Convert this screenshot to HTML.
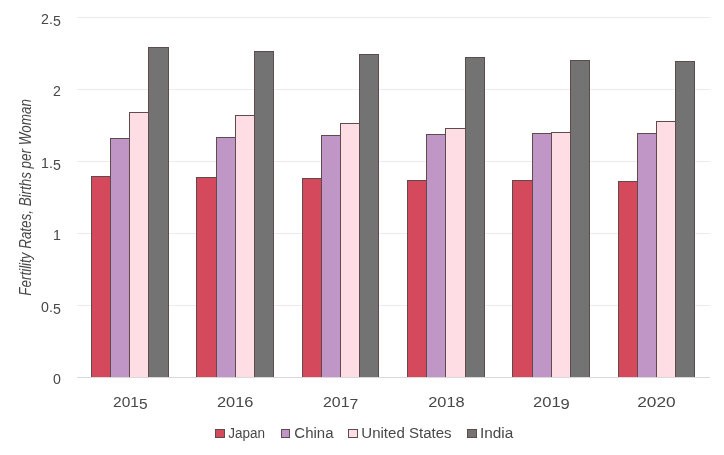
<!DOCTYPE html>
<html lang="en"><head><meta charset="utf-8"><title>Fertility Rates, Births per Woman</title>
<style>
html,body{margin:0;padding:0;background:#fff;}
body{width:724px;height:455px;overflow:hidden;}
svg{display:block;}
text{font-family:"Liberation Sans","DejaVu Sans",sans-serif;fill:#484848;}
.t{font-size:14.2px;}
.ti{font-size:15.8px;font-style:italic;}
.l{font-size:15.5px;}
</style></head><body>
<svg width="724" height="455" viewBox="0 0 724 455">
<rect width="724" height="455" fill="#ffffff"/>
<g shape-rendering="crispEdges">
<rect x="77" y="17" width="633" height="1" fill="#f4e7ee"/>
<rect x="77" y="89" width="633" height="1" fill="#f4e7ee"/>
<rect x="77" y="161" width="633" height="1" fill="#f4e7ee"/>
<rect x="77" y="233" width="633" height="1" fill="#f4e7ee"/>
<rect x="77" y="305" width="633" height="1" fill="#f4e7ee"/>
<rect x="91" y="176" width="20" height="201" fill="#5f4b4b"/>
<rect x="92" y="177" width="18" height="200" fill="#d4495b"/>
<rect x="110" y="138" width="20" height="239" fill="#5f4b4b"/>
<rect x="111" y="139" width="18" height="238" fill="#c096c6"/>
<rect x="129" y="112" width="20" height="265" fill="#5f4b4b"/>
<rect x="130" y="113" width="18" height="264" fill="#ffdde4"/>
<rect x="148" y="47" width="21" height="330" fill="#5f4b4b"/>
<rect x="149" y="48" width="19" height="329" fill="#737373"/>
<rect x="196" y="177" width="21" height="200" fill="#5f4b4b"/>
<rect x="197" y="178" width="19" height="199" fill="#d4495b"/>
<rect x="216" y="137" width="20" height="240" fill="#5f4b4b"/>
<rect x="217" y="138" width="18" height="239" fill="#c096c6"/>
<rect x="235" y="115" width="20" height="262" fill="#5f4b4b"/>
<rect x="236" y="116" width="18" height="261" fill="#ffdde4"/>
<rect x="254" y="51" width="20" height="326" fill="#5f4b4b"/>
<rect x="255" y="52" width="18" height="325" fill="#737373"/>
<rect x="302" y="178" width="20" height="199" fill="#5f4b4b"/>
<rect x="303" y="179" width="18" height="198" fill="#d4495b"/>
<rect x="321" y="135" width="20" height="242" fill="#5f4b4b"/>
<rect x="322" y="136" width="18" height="241" fill="#c096c6"/>
<rect x="340" y="123" width="20" height="254" fill="#5f4b4b"/>
<rect x="341" y="124" width="18" height="253" fill="#ffdde4"/>
<rect x="359" y="54" width="20" height="323" fill="#5f4b4b"/>
<rect x="360" y="55" width="18" height="322" fill="#737373"/>
<rect x="407" y="180" width="20" height="197" fill="#5f4b4b"/>
<rect x="408" y="181" width="18" height="196" fill="#d4495b"/>
<rect x="426" y="134" width="20" height="243" fill="#5f4b4b"/>
<rect x="427" y="135" width="18" height="242" fill="#c096c6"/>
<rect x="445" y="128" width="21" height="249" fill="#5f4b4b"/>
<rect x="446" y="129" width="19" height="248" fill="#ffdde4"/>
<rect x="465" y="57" width="20" height="320" fill="#5f4b4b"/>
<rect x="466" y="58" width="18" height="319" fill="#737373"/>
<rect x="512" y="180" width="21" height="197" fill="#5f4b4b"/>
<rect x="513" y="181" width="19" height="196" fill="#d4495b"/>
<rect x="532" y="133" width="20" height="244" fill="#5f4b4b"/>
<rect x="533" y="134" width="18" height="243" fill="#c096c6"/>
<rect x="551" y="132" width="20" height="245" fill="#5f4b4b"/>
<rect x="552" y="133" width="18" height="244" fill="#ffdde4"/>
<rect x="570" y="60" width="20" height="317" fill="#5f4b4b"/>
<rect x="571" y="61" width="18" height="316" fill="#737373"/>
<rect x="618" y="181" width="20" height="196" fill="#5f4b4b"/>
<rect x="619" y="182" width="18" height="195" fill="#d4495b"/>
<rect x="637" y="133" width="20" height="244" fill="#5f4b4b"/>
<rect x="638" y="134" width="18" height="243" fill="#c096c6"/>
<rect x="656" y="121" width="20" height="256" fill="#5f4b4b"/>
<rect x="657" y="122" width="18" height="255" fill="#ffdde4"/>
<rect x="675" y="61" width="20" height="316" fill="#5f4b4b"/>
<rect x="676" y="62" width="18" height="315" fill="#737373"/>
<rect x="77" y="377" width="633" height="1" fill="#d9d9d9"/>
</g>
<text x="60.8" y="384" text-anchor="end" class="t">0</text>
<text x="60.8" y="312" dy="0 0 2" text-anchor="end" class="t">0.5</text>
<text x="60.8" y="240" text-anchor="end" class="t">1</text>
<text x="60.8" y="168" dy="0 0 2" text-anchor="end" class="t">1.5</text>
<text x="60.8" y="96" text-anchor="end" class="t">2</text>
<text x="60.8" y="24" dy="0 0 2" text-anchor="end" class="t">2.5</text>
<text x="113.1" y="407" dy="0 0 0 2" class="t" textLength="34.5" lengthAdjust="spacingAndGlyphs">2015</text>
<text x="217.0" y="407" class="t" textLength="36.5" lengthAdjust="spacingAndGlyphs">2016</text>
<text x="323.0" y="407" dy="0 0 0 2" class="t" textLength="35.3" lengthAdjust="spacingAndGlyphs">2017</text>
<text x="428.2" y="407" class="t" textLength="36.5" lengthAdjust="spacingAndGlyphs">2018</text>
<text x="533.0" y="407" dy="0 0 0 2" class="t" textLength="36.8" lengthAdjust="spacingAndGlyphs">2019</text>
<text x="637.2" y="407" class="t" textLength="38.5" lengthAdjust="spacingAndGlyphs">2020</text>
<text transform="translate(31.2,197.4) rotate(-90)" text-anchor="middle" class="ti" textLength="196.5" lengthAdjust="spacingAndGlyphs">Fertility Rates, Births per Woman</text>
<g shape-rendering="crispEdges">
<rect x="215" y="429" width="10" height="9" fill="#5f4b4b"/><rect x="216" y="430" width="8" height="7" fill="#d4495b"/>
<rect x="281" y="429" width="9" height="9" fill="#5f4b4b"/><rect x="282" y="430" width="7" height="7" fill="#c096c6"/>
<rect x="348" y="429" width="10" height="9" fill="#5f4b4b"/><rect x="349" y="430" width="8" height="7" fill="#ffdde4"/>
<rect x="467" y="429" width="10" height="9" fill="#5f4b4b"/><rect x="468" y="430" width="8" height="7" fill="#737373"/>
</g>
<text x="228.2" y="437.5" class="l" textLength="36.8" lengthAdjust="spacingAndGlyphs">Japan</text>
<text x="294.3" y="437.5" class="l" textLength="39.2" lengthAdjust="spacingAndGlyphs">China</text>
<text x="361.3" y="437.5" class="l" textLength="90.3" lengthAdjust="spacingAndGlyphs">United States</text>
<text x="479.9" y="437.5" class="l" textLength="33.3" lengthAdjust="spacingAndGlyphs">India</text>
</svg>
</body></html>
